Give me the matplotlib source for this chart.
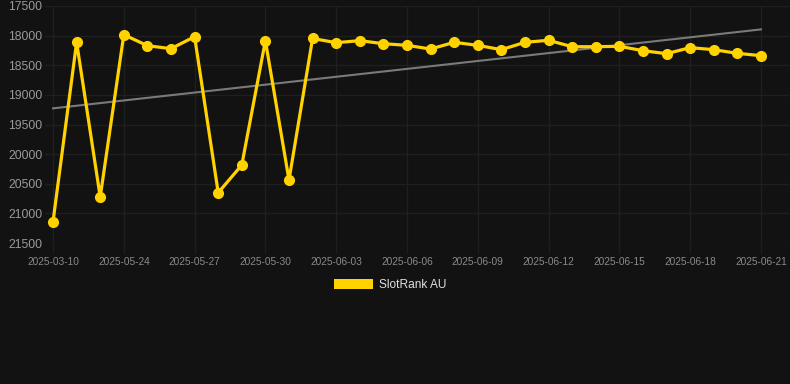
import numpy as np
import matplotlib
matplotlib.use("Agg")
import matplotlib.pyplot as plt
from matplotlib.patches import Patch

W, H = 790, 384
plt.rcParams['font.family'] = ['Liberation Sans', 'DejaVu Sans']

rank = [21140, 18113, 20724, 17984, 18170, 18220, 18018, 20651, 20184, 18085, 20437,
        18048, 18119, 18085, 18136, 18164, 18226, 18113, 18164, 18237, 18113, 18079,
        18187, 18187, 18180, 18254, 18305, 18203, 18237, 18299, 18338]
tick_labels = ["2025-03-10", "2025-05-24", "2025-05-27", "2025-05-30", "2025-06-03",
               "2025-06-06", "2025-06-09", "2025-06-12", "2025-06-15", "2025-06-18",
               "2025-06-21"]
y_ticks = [17500, 18000, 18500, 19000, 19500, 20000, 20500, 21000, 21500]
series_name = "SlotRank AU"

bg = "#121212"
gold = "#FFD200"
grid_c = "#1f1f1f"

fig = plt.figure(figsize=(W / 100, H / 100), dpi=100, facecolor=bg)
ax = fig.add_axes([45 / W, 1 - 243 / H, (789 - 45) / W, (243 - 6) / H], facecolor=bg)

x = np.arange(len(rank))
coef = np.polyfit(x, rank, 1)
ax.plot(x, np.polyval(coef, x), color="#7a7a7a", lw=1.5, zorder=2)
ax.plot(x, rank, color=gold, lw=2.3, marker="o", ms=7, solid_joinstyle="miter",
        zorder=3, clip_on=False)

ax.set_ylim(21500, 17500)
ax.set_xlim(-0.34, 31.19)
ax.set_yticks(y_ticks)
ax.set_yticklabels([str(v) for v in y_ticks])
ax.set_xticks(x[::3])
ax.set_xticklabels(tick_labels)

ax.grid(True, color=grid_c, lw=1)
ax.set_axisbelow(True)
for s in ax.spines.values():
    s.set_visible(False)
ax.tick_params(axis="y", length=0, pad=2, labelsize=8.7, labelcolor="#9a9a9a")
ax.tick_params(axis="x", length=7, width=1, color=grid_c, pad=3, labelsize=7.3,
               labelcolor="#8a8a8a")

fig.legend(handles=[Patch(facecolor=gold, edgecolor="none")], labels=[series_name],
           loc="center", bbox_to_anchor=(0.494, 1 - 285 / H), frameon=False,
           handlelength=3.2, handleheight=0.95, handletextpad=0.5,
           prop={"size": 8.6}, labelcolor="#e0e0e0")

fig.savefig("out.png", dpi=100, facecolor=bg)
